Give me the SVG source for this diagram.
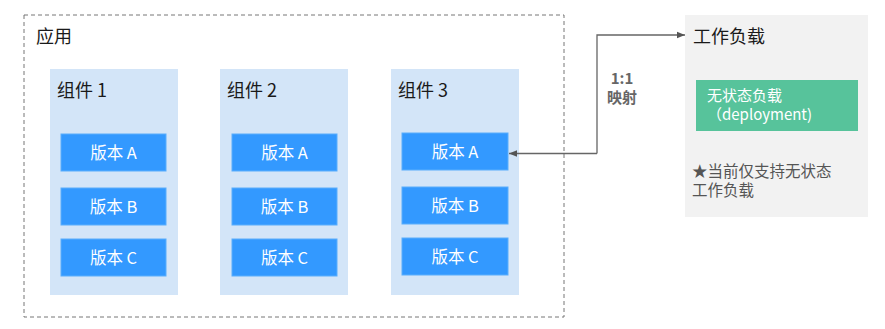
<svg xmlns="http://www.w3.org/2000/svg" width="885" height="329" viewBox="0 0 885 329">
<defs>
<style>
text{font-family:"Noto Sans CJK SC","Noto Sans",sans-serif;}
.comp{fill:#d3e5f8;}
.ver{fill:#3399ff;stroke:#5aaefc;stroke-width:1;}
.vt{fill:#ffffff;font-size:16.5px;text-anchor:middle;}
.ct{fill:#1a1a1a;font-size:18px;}
.conn{fill:none;stroke:#666666;stroke-width:1.3;}
</style>
<marker id="ah" viewBox="0 0 10 10" refX="10" refY="5" markerWidth="8" markerHeight="8" markerUnits="userSpaceOnUse" orient="auto">
<path d="M0,1 L10,5 L0,9 z" fill="#555555"/>
</marker>
</defs>
<rect width="885" height="329" fill="#ffffff"/>
<g id="app">
<rect x="24" y="15" width="540" height="302" fill="none" stroke="#777777" stroke-width="1" stroke-dasharray="4,3"/>
<text x="36" y="43" class="ct" font-size="19">应用</text>
</g>
<g id="comp1">
<rect class="comp" x="50" y="69" width="128" height="226"/>
<text x="57" y="97" class="ct">组件 1</text>
<rect class="ver" x="61" y="134" width="105" height="37"/>
<text x="113.5" y="158.5" class="vt">版本 A</text>
<rect class="ver" x="61" y="188" width="105" height="37"/>
<text x="113.5" y="212.5" class="vt">版本 B</text>
<rect class="ver" x="61" y="239" width="105" height="37"/>
<text x="113.5" y="263.5" class="vt">版本 C</text>
</g>
<g id="comp2">
<rect class="comp" x="220" y="69" width="128" height="226"/>
<text x="227" y="97" class="ct">组件 2</text>
<rect class="ver" x="232" y="134" width="105" height="37"/>
<text x="284.5" y="158.5" class="vt">版本 A</text>
<rect class="ver" x="232" y="188" width="105" height="37"/>
<text x="284.5" y="212.5" class="vt">版本 B</text>
<rect class="ver" x="232" y="239" width="105" height="37"/>
<text x="284.5" y="263.5" class="vt">版本 C</text>
</g>
<g id="comp3">
<rect class="comp" x="391" y="69" width="128" height="226"/>
<text x="398" y="97" class="ct">组件 3</text>
<rect class="ver" x="402" y="133" width="106" height="37"/>
<text x="455" y="157.5" class="vt">版本 A</text>
<rect class="ver" x="402" y="187" width="106" height="37"/>
<text x="455" y="211.5" class="vt">版本 B</text>
<rect class="ver" x="402" y="238" width="106" height="37"/>
<text x="455" y="262.5" class="vt">版本 C</text>
</g>
<g id="workload">
<rect x="685" y="15" width="183" height="202" fill="#f2f2f2"/>
<text x="693" y="43" class="ct" font-size="19">工作负载</text>
<rect x="696" y="80" width="162" height="51" fill="#57c39b"/>
<text x="707" y="101" fill="#ffffff" font-size="15">无状态负载</text>
<text x="707" y="119.5" fill="#ffffff" font-size="15">（deployment)</text>
<text x="692" y="177" fill="#555555" font-size="15.5">★当前仅支持无状态</text>
<text x="692" y="196" fill="#555555" font-size="15.5">工作负载</text>
</g>
<g id="connectors">
<path class="conn" d="M597,153.5 L597,35 L685,35" marker-end="url(#ah)"/>
<path class="conn" d="M597,153.5 L509,153.5" marker-end="url(#ah)"/>
<text x="622" y="84" fill="#666666" font-size="15" font-weight="bold" text-anchor="middle">1:1</text>
<text x="622" y="103" fill="#666666" font-size="15" font-weight="bold" text-anchor="middle">映射</text>
</g>
</svg>
